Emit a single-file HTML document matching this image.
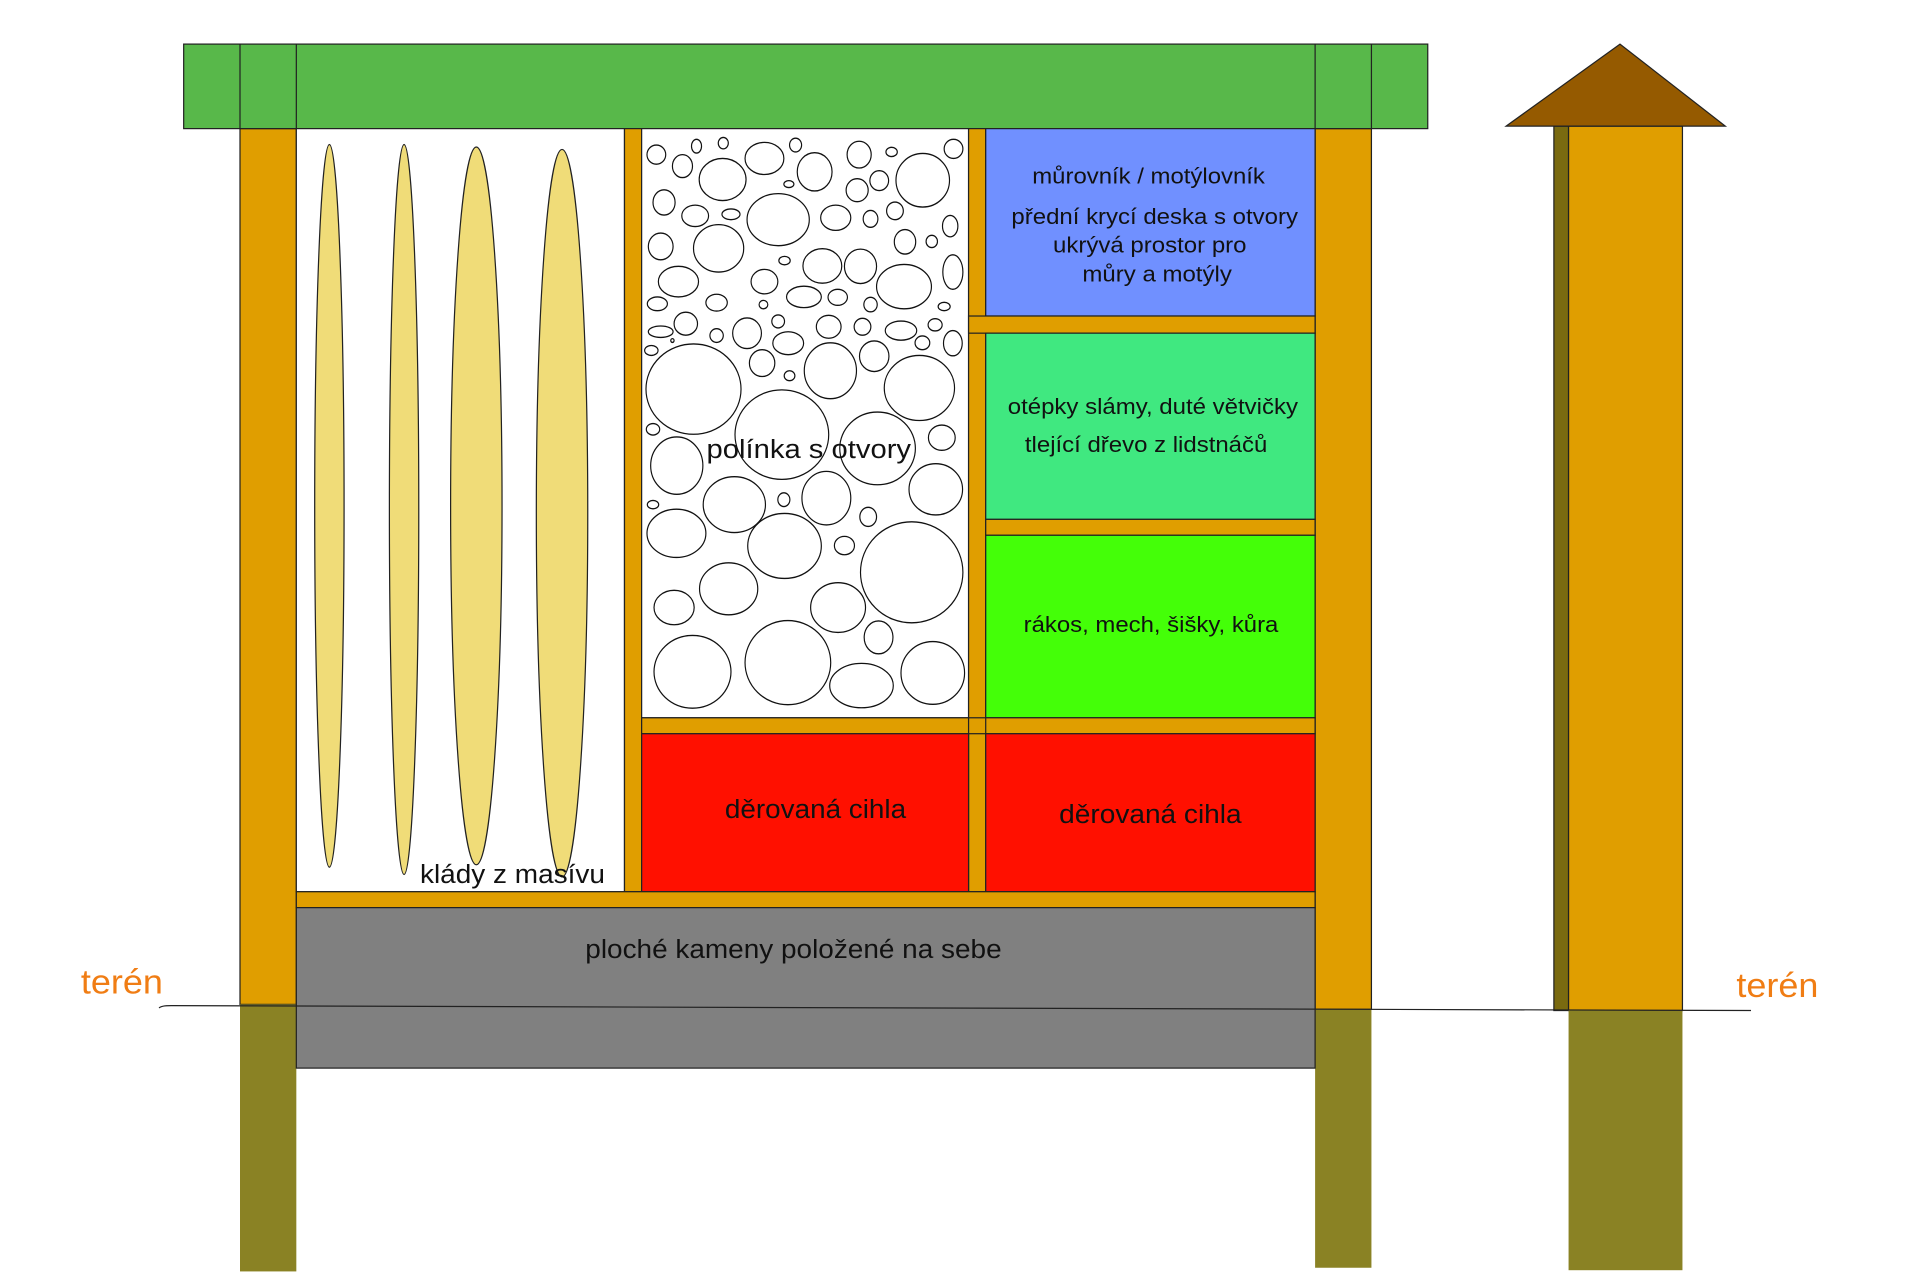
<!DOCTYPE html>
<html><head><meta charset="utf-8"><style>
html,body{margin:0;padding:0;background:#fff;}
svg{display:block;}
text{font-family:"Liberation Sans",sans-serif;fill:#111;}
</style></head><body>
<svg width="1920" height="1280" viewBox="0 0 1568 1045" preserveAspectRatio="none" xmlns="http://www.w3.org/2000/svg">
<g stroke="#222" stroke-width="1">
<rect x="196" y="105" width="46" height="715" fill="#e09e00"/>
<rect x="196" y="820" width="46" height="218" fill="#8a8224" stroke="none"/>
<rect x="1074" y="105" width="46" height="719" fill="#e09e00"/>
<rect x="1074" y="824" width="46" height="211" fill="#8a8224" stroke="none"/>
<rect x="150" y="36" width="1016" height="69" fill="#58b84a"/>
<line x1="196" y1="36" x2="196" y2="105"/><line x1="242" y1="36" x2="242" y2="105"/>
<line x1="1074" y1="36" x2="1074" y2="105"/><line x1="1120" y1="36" x2="1120" y2="105"/>
<rect x="242" y="105" width="268" height="623" fill="#fff"/>
<rect x="510" y="105" width="14" height="623" fill="#e09e00"/>
<rect x="524" y="105" width="267" height="481" fill="#fff"/>
<rect x="791" y="105" width="14" height="623" fill="#e09e00"/>
<rect x="805" y="105" width="269" height="153" fill="#7090ff"/>
<rect x="791" y="258" width="283" height="14" fill="#e09e00"/>
<rect x="805" y="272" width="269" height="152" fill="#40e880"/>
<rect x="805" y="424" width="269" height="13" fill="#e09e00"/>
<rect x="805" y="437" width="269" height="149" fill="#44ff08"/>
<rect x="524" y="586" width="550" height="13" fill="#e09e00"/>
<line x1="791" y1="586" x2="791" y2="599"/><line x1="805" y1="586" x2="805" y2="599"/>
<rect x="524" y="599" width="267" height="129" fill="#ff1000"/>
<rect x="805" y="599" width="269" height="129" fill="#ff1000"/>
<rect x="242" y="728" width="832" height="13" fill="#e09e00"/>
<rect x="242" y="741" width="832" height="131" fill="#808080"/>
<ellipse cx="269" cy="413" rx="12" ry="295" fill="#f0dc78"/>
<ellipse cx="330" cy="416" rx="12" ry="298" fill="#f0dc78"/>
<ellipse cx="389" cy="413" rx="21" ry="293" fill="#f0dc78"/>
<ellipse cx="459" cy="419" rx="21" ry="297" fill="#f0dc78"/>
<rect x="1269" y="103" width="12" height="722" fill="#7a6a10"/>
<rect x="1281" y="103" width="93" height="722" fill="#e09e00"/>
<rect x="1281" y="825" width="93" height="212" fill="#8a8224" stroke="none"/>
<polygon points="1230,103 1323,36 1409,103" fill="#955a00"/>
</g>
<path d="M130,823 Q131,821 140,821 L1430,825" fill="none" stroke="#222" stroke-width="1"/>
<g transform="translate(524,105) scale(0.2733,0.3123) translate(-8,-22)" fill="none" stroke="#111" stroke-width="3.5">
<ellipse cx="52" cy="90" rx="28" ry="25"/>
<ellipse cx="130" cy="120" rx="30" ry="30"/>
<ellipse cx="172" cy="68" rx="15" ry="18"/>
<ellipse cx="252" cy="60" rx="15" ry="15"/>
<ellipse cx="250" cy="155" rx="70" ry="55"/>
<ellipse cx="375" cy="100" rx="58" ry="42"/>
<ellipse cx="468" cy="65" rx="18" ry="18"/>
<ellipse cx="525" cy="135" rx="52" ry="50"/>
<ellipse cx="658" cy="90" rx="36" ry="35"/>
<ellipse cx="755" cy="83" rx="17" ry="12"/>
<ellipse cx="940" cy="75" rx="28" ry="25"/>
<ellipse cx="848" cy="157" rx="80" ry="70"/>
<ellipse cx="448" cy="167" rx="15" ry="9"/>
<ellipse cx="652" cy="183" rx="33" ry="30"/>
<ellipse cx="718" cy="158" rx="28" ry="26"/>
<ellipse cx="75" cy="215" rx="33" ry="33"/>
<ellipse cx="168" cy="250" rx="40" ry="28"/>
<ellipse cx="275" cy="246" rx="27" ry="14"/>
<ellipse cx="416" cy="260" rx="93" ry="68"/>
<ellipse cx="588" cy="255" rx="45" ry="33"/>
<ellipse cx="692" cy="258" rx="22" ry="22"/>
<ellipse cx="765" cy="237" rx="25" ry="23"/>
<ellipse cx="930" cy="277" rx="23" ry="28"/>
<ellipse cx="65" cy="330" rx="37" ry="35"/>
<ellipse cx="238" cy="335" rx="75" ry="62"/>
<ellipse cx="435" cy="367" rx="17" ry="11"/>
<ellipse cx="548" cy="381" rx="58" ry="45"/>
<ellipse cx="662" cy="382" rx="48" ry="45"/>
<ellipse cx="792" cy="435" rx="82" ry="58"/>
<ellipse cx="938" cy="397" rx="30" ry="45"/>
<ellipse cx="875" cy="317" rx="17" ry="16"/>
<ellipse cx="795" cy="318" rx="32" ry="32"/>
<ellipse cx="118" cy="422" rx="60" ry="40"/>
<ellipse cx="375" cy="422" rx="40" ry="32"/>
<ellipse cx="55" cy="480" rx="30" ry="18"/>
<ellipse cx="232" cy="477" rx="32" ry="22"/>
<ellipse cx="372" cy="482" rx="13" ry="11"/>
<ellipse cx="493" cy="462" rx="52" ry="28"/>
<ellipse cx="594" cy="463" rx="29" ry="21"/>
<ellipse cx="692" cy="482" rx="20" ry="19"/>
<ellipse cx="912" cy="487" rx="18" ry="11"/>
<ellipse cx="140" cy="532" rx="35" ry="30"/>
<ellipse cx="65" cy="553" rx="37" ry="15"/>
<ellipse cx="232" cy="563" rx="20" ry="18"/>
<ellipse cx="323" cy="557" rx="43" ry="40"/>
<ellipse cx="416" cy="526" rx="19" ry="17"/>
<ellipse cx="446" cy="583" rx="46" ry="30"/>
<ellipse cx="567" cy="540" rx="37" ry="30"/>
<ellipse cx="668" cy="540" rx="25" ry="22"/>
<ellipse cx="783" cy="550" rx="47" ry="25"/>
<ellipse cx="885" cy="535" rx="21" ry="16"/>
<ellipse cx="847" cy="582" rx="22" ry="18"/>
<ellipse cx="938" cy="583" rx="28" ry="33"/>
<ellipse cx="37" cy="602" rx="20" ry="13"/>
<ellipse cx="100" cy="576" rx="5" ry="5"/>
<ellipse cx="163" cy="703" rx="142" ry="118"/>
<ellipse cx="368" cy="635" rx="38" ry="35"/>
<ellipse cx="450" cy="668" rx="16" ry="13"/>
<ellipse cx="572" cy="655" rx="78" ry="73"/>
<ellipse cx="703" cy="617" rx="44" ry="40"/>
<ellipse cx="838" cy="700" rx="105" ry="85"/>
<ellipse cx="427" cy="822" rx="140" ry="117"/>
<ellipse cx="713" cy="858" rx="113" ry="95"/>
<ellipse cx="42" cy="808" rx="20" ry="15"/>
<ellipse cx="905" cy="830" rx="40" ry="33"/>
<ellipse cx="113" cy="903" rx="78" ry="75"/>
<ellipse cx="285" cy="1005" rx="93" ry="73"/>
<ellipse cx="433" cy="992" rx="18" ry="18"/>
<ellipse cx="560" cy="988" rx="73" ry="70"/>
<ellipse cx="685" cy="1037" rx="25" ry="25"/>
<ellipse cx="887" cy="965" rx="80" ry="67"/>
<ellipse cx="42" cy="1005" rx="17" ry="11"/>
<ellipse cx="112" cy="1080" rx="88" ry="63"/>
<ellipse cx="435" cy="1113" rx="110" ry="85"/>
<ellipse cx="614" cy="1112" rx="30" ry="24"/>
<ellipse cx="815" cy="1182" rx="153" ry="132"/>
<ellipse cx="268" cy="1225" rx="87" ry="68"/>
<ellipse cx="105" cy="1274" rx="60" ry="45"/>
<ellipse cx="595" cy="1274" rx="82" ry="65"/>
<ellipse cx="716" cy="1352" rx="43" ry="43"/>
<ellipse cx="160" cy="1442" rx="115" ry="95"/>
<ellipse cx="445" cy="1418" rx="128" ry="110"/>
<ellipse cx="665" cy="1478" rx="95" ry="58"/>
<ellipse cx="878" cy="1445" rx="95" ry="82"/>
</g>
<g font-size="18" lengthAdjust="spacingAndGlyphs">
<text x="843" y="150" textLength="190" lengthAdjust="spacingAndGlyphs">můrovník / motýlovník</text>
<text x="826" y="183" textLength="234" lengthAdjust="spacingAndGlyphs">přední krycí deska s otvory</text>
<text x="860" y="206" textLength="158" lengthAdjust="spacingAndGlyphs">ukrývá prostor pro</text>
<text x="884" y="230" textLength="122" lengthAdjust="spacingAndGlyphs">můry a motýly</text>
<text x="823" y="338" textLength="237" lengthAdjust="spacingAndGlyphs">otépky slámy, duté větvičky</text>
<text x="837" y="369" textLength="198" lengthAdjust="spacingAndGlyphs">tlející dřevo z lidstnáčů</text>
<text x="836" y="516" textLength="208" lengthAdjust="spacingAndGlyphs">rákos, mech, šišky, kůra</text>
</g>
<g font-size="21">
<text x="592" y="668" textLength="148" lengthAdjust="spacingAndGlyphs">děrovaná cihla</text>
<text x="865" y="672" textLength="149" lengthAdjust="spacingAndGlyphs">děrovaná cihla</text>
<text x="343" y="721" textLength="151" lengthAdjust="spacingAndGlyphs">klády z masívu</text>
<text x="577" y="374" textLength="167" lengthAdjust="spacingAndGlyphs">polínka  s otvory</text>
<text x="478" y="782" textLength="340" lengthAdjust="spacingAndGlyphs">ploché kameny položené na sebe</text>
</g>
<text x="66" y="811" font-size="28" textLength="67" lengthAdjust="spacingAndGlyphs" style="fill:#f07d14">terén</text>
<text x="1418" y="814" font-size="28" textLength="67" lengthAdjust="spacingAndGlyphs" style="fill:#f07d14">terén</text>
</svg>
</body></html>
